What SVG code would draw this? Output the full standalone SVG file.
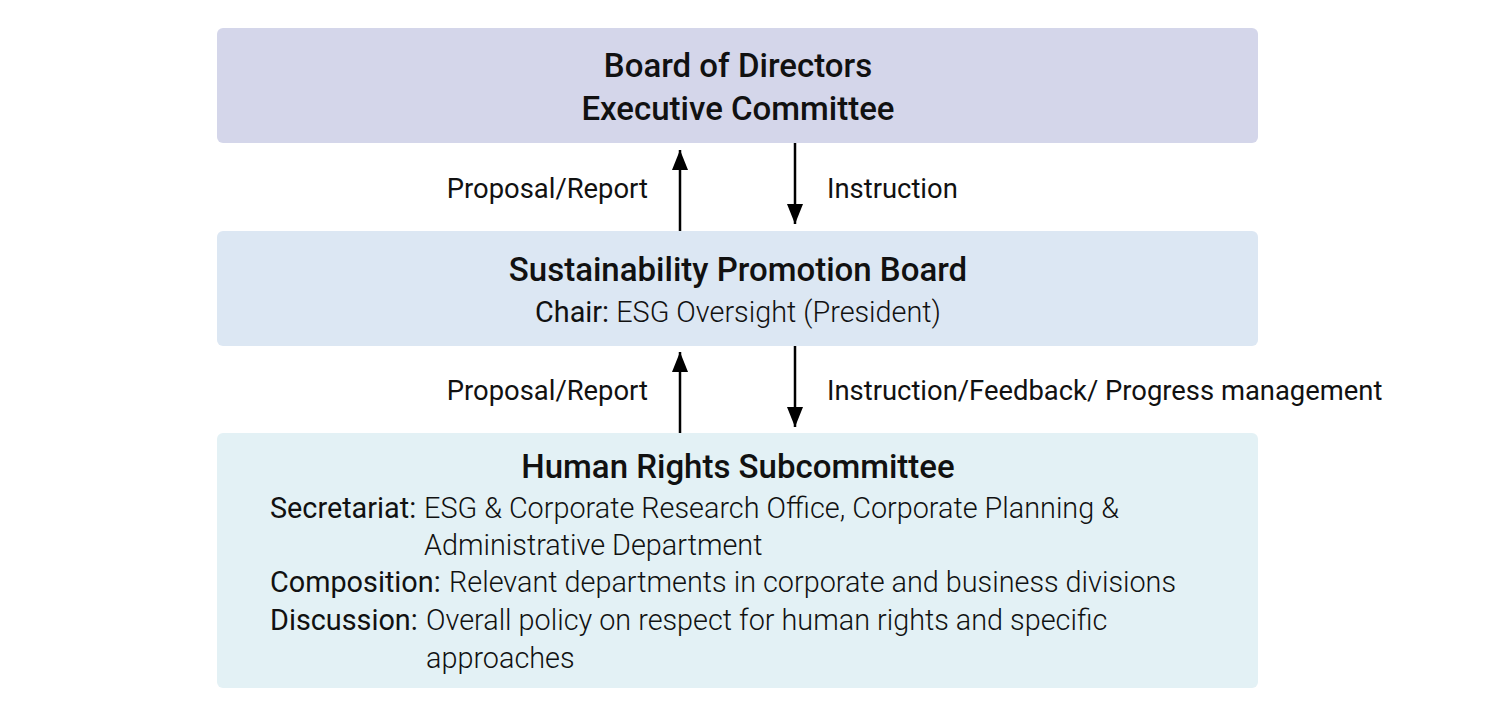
<svg xmlns="http://www.w3.org/2000/svg" width="1500" height="713" viewBox="0 0 1500 713">
<style>
text{font-family:Roboto,"Liberation Sans",sans-serif;fill:#111;}
.t{font-size:33px;font-weight:500;text-anchor:middle;}
.b{font-size:28.8px;font-weight:400;}
.l{font-size:28.8px;font-weight:300;}
.lab{font-size:27.4px;font-weight:400;}
.c{stroke:#000;stroke-width:2.5;fill:none;}
</style>
<defs>
<marker id="a" viewBox="0 0 20 16" refX="20" refY="8" markerUnits="userSpaceOnUse" markerWidth="20" markerHeight="16" orient="auto">
<path d="M0,0 L20,8 L0,16 Z" fill="#000"/>
</marker>
</defs>
<g id="board">
<rect x="217" y="28" width="1041" height="115" rx="6" fill="#D4D6EA"/>
<text class="t" x="738" y="77">Board of Directors</text>
<text class="t" x="738" y="120">Executive Committee</text>
</g>
<g id="spb">
<rect x="217" y="231" width="1041" height="115" rx="6" fill="#DCE7F3"/>
<text class="t" x="738" y="281">Sustainability Promotion Board</text>
<text class="b" x="738" y="322" text-anchor="middle">Chair: <tspan class="l">ESG Oversight (President)</tspan></text>
</g>
<g id="hrs">
<rect x="217" y="433" width="1041" height="255" rx="6" fill="#E3F1F5"/>
<text class="t" x="738" y="478">Human Rights Subcommittee</text>
<text class="b" x="270" y="518">Secretariat:</text>
<text class="l" x="424" y="518">ESG &amp; Corporate Research Office, Corporate Planning &amp;</text>
<text class="l" x="424" y="555">Administrative Department</text>
<text class="b" x="270" y="592">Composition:</text>
<text class="l" x="449" y="592">Relevant departments in corporate and business divisions</text>
<text class="b" x="270" y="630">Discussion:</text>
<text class="l" x="426" y="630">Overall policy on respect for human rights and specific</text>
<text class="l" x="426" y="668">approaches</text>
</g>
<g id="connectors">
<line class="c" x1="680" y1="231" x2="680" y2="150" marker-end="url(#a)"/>
<line class="c" x1="795" y1="143" x2="795" y2="224" marker-end="url(#a)"/>
<line class="c" x1="680" y1="433" x2="680" y2="352" marker-end="url(#a)"/>
<line class="c" x1="795" y1="346" x2="795" y2="427" marker-end="url(#a)"/>
<text class="lab" x="648" y="198" text-anchor="end">Proposal/Report</text>
<text class="lab" x="827" y="198">Instruction</text>
<text class="lab" x="648" y="400" text-anchor="end">Proposal/Report</text>
<text class="lab" x="827" y="400">Instruction/Feedback/ Progress management</text>
</g>
</svg>
